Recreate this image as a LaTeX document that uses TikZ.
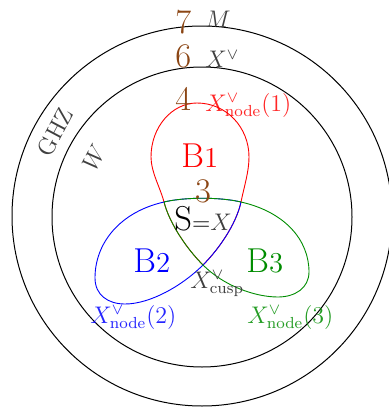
\documentclass[tikz,border=0pt]{standalone}
\definecolor{brn}{RGB}{139,69,19}
\definecolor{grn}{RGB}{0,140,0}
\definecolor{txtgray}{RGB}{64,64,64}
\tikzset{
  ring/.style={draw=black, line width=0.5pt},
  loopline/.style={line width=0.45pt},
  numlbl/.style={text=brn, font=\LARGE, inner sep=0pt, anchor=base west},
  graylbl/.style={text=txtgray, font=\large, inner sep=0pt, anchor=base west},
  biglbl/.style={inner sep=0pt, anchor=base west},
  nodelbl/.style={font=\large, inner sep=0pt, anchor=base west, text opacity=0.85},
  rotlbl/.style={text=txtgray, inner sep=0pt, rotate=62}
}
\begin{document}
\begin{tikzpicture}[x=0.5pt,y=-0.5pt]
\useasboundingbox (0,0) rectangle (388,407);
% circles
\draw[ring] (202,216) circle[radius=190];
\draw[ring] (202,217) circle[radius=150];
% triangle vertices
\coordinate (P) at (164,202);
\coordinate (Q) at (241,202);
\coordinate (T) at (203,265);
% red loop B1 (tip at T)
\draw[loopline, red] (T) .. controls (188,250) and (170,225) .. (P)
  .. controls (160,187) and (151,172) .. (151,157)
  .. controls (151,127) and (172,103) .. (197,103)
  .. controls (226,103) and (249,127) .. (249,157)
  .. controls (249,172) and (244,187) .. (Q)
  .. controls (236,225) and (218,250) .. (T);
% blue loop B2 (tip at Q)
\draw[loopline, blue] (Q) .. controls (220,197) and (185,197) .. (P)
  .. controls (120,212) and (95,243) .. (95,278)
  .. controls (95,295) and (108,304) .. (125,304)
  .. controls (150,304) and (182,286) .. (T)
  .. controls (218,250) and (236,225) .. (Q);
% green loop B3 (tip at P)
\draw[loopline, grn] (P) .. controls (185,197) and (220,197) .. (Q)
  .. controls (285,212) and (309,240) .. (309,272)
  .. controls (309,288) and (295,297) .. (278,297)
  .. controls (255,297) and (224,286) .. (T)
  .. controls (188,250) and (170,225) .. (P);
% labels
\node[numlbl] (n7) at (175,33) {7};
\node[graylbl] (lM) at (205,27) {$M$};
\node[numlbl] (n6) at (175,68) {6};
\node[graylbl] (lXv) at (205,68) {$X^\vee$};
\node[numlbl] (n4) at (175,110) {4};
\node[nodelbl, text=red] (lnode1) at (205,111) {$X^\vee_{\mathrm{node}}(1)$};
\node[biglbl, text=red] (lB1) at (181,167) {{\LARGE B}{\Large 1}};
\node[numlbl, anchor=base] (n3) at (203,202) {3};
\node[biglbl] (lS) at (174,230) {{\LARGE S}{\large $=$\textcolor{txtgray}{$X$}}};
\node[biglbl, text=blue] (lB2) at (133,272) {{\LARGE B}{\Large 2}};
\node[biglbl, text=grn] (lB3) at (246,272) {{\LARGE B}{\Large 3}};
\node[graylbl] (lcusp) at (190,288) {$X^\vee_{\mathrm{cusp}}$};
\node[nodelbl, text=blue] (lnode2) at (90,323) {$X^\vee_{\mathrm{node}}(2)$};
\node[nodelbl, text=grn] (lnode3) at (247,323) {$X^\vee_{\mathrm{node}}(3)$};
\node[rotlbl, font=\large] (lGHZ) at (55,132) {GHZ};
\node[rotlbl, font=\large] (lW) at (94,157) {$W$};
\end{tikzpicture}
\end{document}
